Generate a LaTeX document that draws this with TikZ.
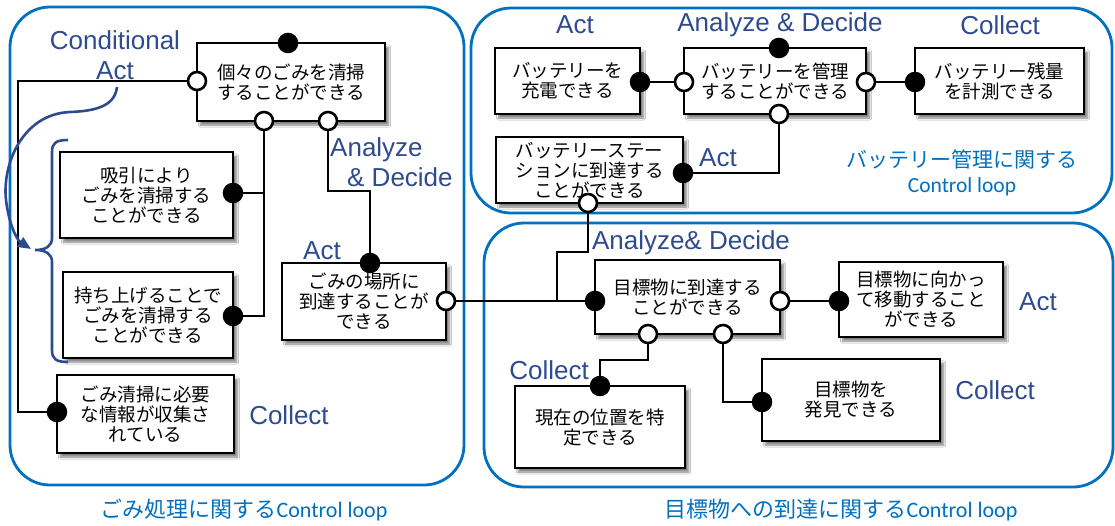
\documentclass[tikz,border=0pt]{standalone}
\usepackage{fontspec}
\setmainfont{Liberation Sans}
\newfontfamily\jp{Noto Sans CJK JP}
\newfontfamily\calib{Carlito}
\usetikzlibrary{arrows.meta,shadows.blur}
\definecolor{lbl}{RGB}{47,75,143}
\definecolor{loopc}{RGB}{0,112,192}

\tikzset{
  fbox/.style={draw=black, line width=2.6pt, fill=white, align=center, inner sep=0pt,
    font=\jp\fontsize{18.5}{20}\selectfont,
    blur shadow={shadow xshift=3.5pt, shadow yshift=-4pt, shadow blur steps=6, shadow opacity=50}},
  bdot/.style={circle, draw=black, fill=black, line width=1.5pt, minimum size=19pt, inner sep=0pt},
  wdot/.style={circle, draw=black, fill=white, line width=2.6pt, minimum size=18pt, inner sep=0pt},
  wire/.style={draw=black, line width=2.6pt},
  role/.style={text=lbl, font=\fontsize{26}{30}\selectfont, inner sep=0pt},
  loopbox/.style={draw=loopc, line width=2.8pt, rounded corners=40pt},
  looplbl/.style={text=loopc, inner sep=0pt},
  bluecurve/.style={draw=lbl, line width=2.6pt},
}

\begin{document}
\begin{tikzpicture}[x=1pt,y=-1pt]
\useasboundingbox (0,0) rectangle (1115,525);
\fill[white] (0,0) rectangle (1115,525);

% control loop frames
\draw[loopbox] (10,7) rectangle (464,485);
\draw[loopbox] (471,8) rectangle (1112,213);
\draw[loopbox] (484,223) rectangle (1113,487);

% function boxes: garbage handling loop
\node[fbox, minimum width=188pt, minimum height=78pt] (n1) at (291,82) {個々のごみを清掃\\することができる};
\node[fbox, minimum width=173pt, minimum height=86pt] (n2) at (146.5,195) {吸引により\\ごみを清掃する\\ことができる};
\node[fbox, minimum width=170pt, minimum height=86pt] (n3) at (148,315) {持ち上げることで\\ごみを清掃する\\ことができる};
\node[fbox, minimum width=177pt, minimum height=78pt] (n4) at (145.5,414) {ごみ清掃に必要\\な情報が収集さ\\れている};
\node[fbox, minimum width=164pt, minimum height=77pt] (n5) at (364,301.5) {ごみの場所に\\到達することが\\できる};

% function boxes: battery loop
\node[fbox, minimum width=145pt, minimum height=66pt] (b1) at (567.5,81) {バッテリーを\\充電できる};
\node[fbox, minimum width=182pt, minimum height=66pt] (b2) at (775,81) {バッテリーを管理\\することができる};
\node[fbox, minimum width=169pt, minimum height=66pt] (b3) at (999.5,81) {バッテリー残量\\を計測できる};
\node[fbox, minimum width=187pt, minimum height=66pt] (b4) at (589.5,170) {バッテリーステー\\ションに到達する\\ことができる};

% function boxes: target reaching loop
\node[fbox, minimum width=185pt, minimum height=74pt] (c1) at (687.5,297) {目標物に到達する\\ことができる};
\node[fbox, minimum width=164pt, minimum height=75pt] (c2) at (921,299.5) {目標物に向かっ\\て移動すること\\ができる};
\node[fbox, minimum width=170pt, minimum height=82pt] (c3) at (600,427) {現在の位置を特\\定できる};
\node[fbox, minimum width=178pt, minimum height=82pt] (c4) at (851,400) {目標物を\\発見できる};

% ports
\coordinate (n1t) at (288,43);
\coordinate (n1l) at (197,81);
\coordinate (n1b1) at (264,121);
\coordinate (n1b2) at (328,121);
\coordinate (n2r) at (233,193);
\coordinate (n3r) at (233,316);
\coordinate (n4l) at (57,412);
\coordinate (n5t) at (370,263);
\coordinate (n5r) at (446,301);
\coordinate (b1r) at (640,82);
\coordinate (b2l) at (684,82);
\coordinate (b2r) at (866,82);
\coordinate (b2t) at (779,48);
\coordinate (b2b) at (779,114);
\coordinate (b3l) at (915,82);
\coordinate (b4r) at (683,173);
\coordinate (b4b) at (588,203);
\coordinate (c1l) at (595,301);
\coordinate (c1r) at (780,301);
\coordinate (c1b1) at (648,334);
\coordinate (c1b2) at (723,334);
\coordinate (c2l) at (839,301);
\coordinate (c3t) at (600,386);
\coordinate (c4l) at (762,402);

% connectors
\draw[wire] (n1l) -- ++(-179,0) |- (n4l);
\draw[wire] (n1b1) |- (n3r);
\draw[wire] (n2r) -- (n2r -| n1b1);
\draw[wire] (n1b2) -- ++(0,70) -| (n5t);
\draw[wire] (n5r) -- (c1l);
\draw[wire] (b4b) -- ++(0,49) -- ++(-31,0) -- ++(0,49);
\draw[wire] (b1r) -- (b2l);
\draw[wire] (b2r) -- (b3l);
\draw[wire] (b2b) |- (b4r);
\draw[wire] (c1r) -- (c2l);
\draw[wire] (c1b1) -- ++(0,26) -| (c3t);
\draw[wire] (c1b2) |- (c4l);

% port markers
\foreach \p in {n1t,n2r,n3r,n4l,n5t,b1r,b2t,b3l,b4r,c1l,c2l,c3t,c4l}
  \node[bdot] at (\p) {};
\foreach \p in {n1l,n1b1,n1b2,n5r,b2l,b2r,b2b,b4b,c1r,c1b1,c1b2}
  \node[wdot] at (\p) {};

% role labels
\node[role, align=center] (cact) at (115,55) {Conditional\\Act};
\node[role, align=left, anchor=west] (ad1) at (330,162) {Analyze\\\hspace*{17pt}\& Decide};
\node[role] (act1) at (322,251) {Act};
\node[role] (col1) at (289,415) {Collect};
\node[role] (act2) at (575,25) {Act};
\node[role] (ad2) at (780,25) {Analyze \& Decide};
\node[role] (col2) at (1000,25) {Collect};
\node[role] (act3) at (718,158) {Act};
\node[role] (ad3) at (691,243) {Analyze\& Decide};
\node[role] (act4) at (1038,302) {Act};
\node[role] (col3) at (549,370) {Collect};
\node[role] (col4) at (995,390) {Collect};

% brace grouping the two cleaning methods
\draw[bluecurve] (68,140) .. controls (56,140) and (52,143) .. (52,152) -- (52,238)
  .. controls (52,246) and (46,250) .. (35,250)
  .. controls (46,250) and (52,254) .. (52,262) -- (52,350)
  .. controls (52,359) and (56,362) .. (68,362);
% conditional arrow into the brace
\draw[bluecurve, -{Triangle[length=13pt,width=11pt]}] (117,87)
  .. controls (115,104) and (100,111) .. (70,112)
  .. controls (22,114) and (2,165) .. (6,200)
  .. controls (9,225) and (17,240) .. (31,249);

% loop captions
\node[looplbl, font=\jp\fontsize{21}{24}\selectfont] (cap1) at (962,159) {バッテリー管理に関する};
\node[looplbl, font=\calib\fontsize{21.5}{24}\selectfont] (cap2) at (962,187) {Control loop};
\node[looplbl, font=\fontsize{22}{26}\selectfont] (cap3) at (244,510) {{\jp ごみ処理に関する}{\calib Control loop}};
\node[looplbl, font=\fontsize{22}{26}\selectfont] (cap4) at (841,510) {{\jp 目標物への到達に関する}{\calib Control loop}};
\end{tikzpicture}
\end{document}
